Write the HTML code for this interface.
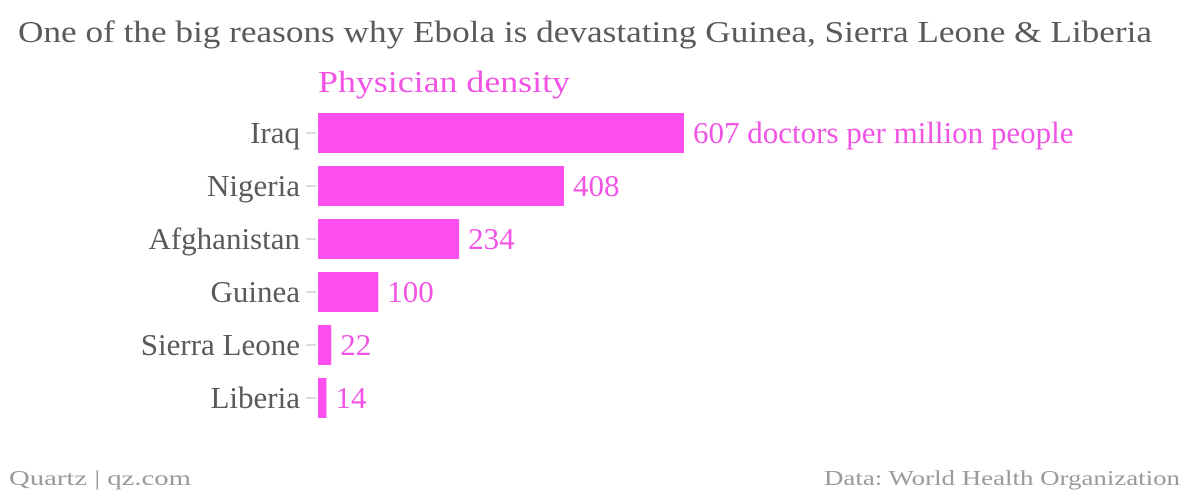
<!DOCTYPE html>
<html><head><meta charset="utf-8"><style>
html,body{margin:0;padding:0;background:#fff;}
svg{display:block;font-family:"Liberation Serif",serif;}
</style></head><body>
<svg id="chart" width="1200" height="498" viewBox="0 0 1200 498">
<text x="18" y="42" font-size="31" fill="#5a5a5a" textLength="1134" lengthAdjust="spacingAndGlyphs">One of the big reasons why Ebola is devastating Guinea, Sierra Leone &amp; Liberia</text>
<text x="318" y="92" font-size="31" fill="#f154e4" textLength="252" lengthAdjust="spacingAndGlyphs">Physician density</text>
<g id="bars"></g>
<text x="9" y="485" font-size="21" fill="#9a9a9a" textLength="182" lengthAdjust="spacingAndGlyphs">Quartz | qz.com</text>
<text x="1180" y="485" font-size="21" fill="#9a9a9a" text-anchor="end" textLength="356" lengthAdjust="spacingAndGlyphs">Data: World Health Organization</text>
</svg>
<script>
const categories = ["Iraq","Nigeria","Afghanistan","Guinea","Sierra Leone","Liberia"];
const values = [607,408,234,100,22,14];
const valueLabels = ["607 doctors per million people","408","234","100","22","14"];

const NS = "http://www.w3.org/2000/svg";
const x0 = 318, pxPerUnit = 366/607;
const xScale = v => x0 + v * pxPerUnit;
const rowTop = i => 113 + i * 53;
const barH = 40;
const g = document.getElementById("bars");
function mk(tag, attrs){ const e=document.createElementNS(NS,tag); for(const k in attrs) e.setAttribute(k,attrs[k]); return e; }
categories.forEach((c,i)=>{
  const y = rowTop(i), cy = y + barH/2;
  const tick = mk("line",{x1:306,x2:316,y1:cy,y2:cy,stroke:"#d0d0d0","stroke-width":1.5});
  
  
  g.appendChild(tick);
  const lab = mk("text",{x:300,y:cy+10,"font-size":31,fill:"#5a5a5a","text-anchor":"end"});
  lab.textContent = c;
  
  
  g.appendChild(lab);
  const r = mk("rect",{x:x0,y:y,width:xScale(values[i])-x0,height:barH,fill:"#fd4ff0"});
  
  
  g.appendChild(r);
  const v = mk("text",{x:xScale(values[i])+9,y:cy+10,"font-size":31,fill:"#f154e4"});
  v.textContent = valueLabels[i];
  
  
  g.appendChild(v);
});
</script>
</body></html>
